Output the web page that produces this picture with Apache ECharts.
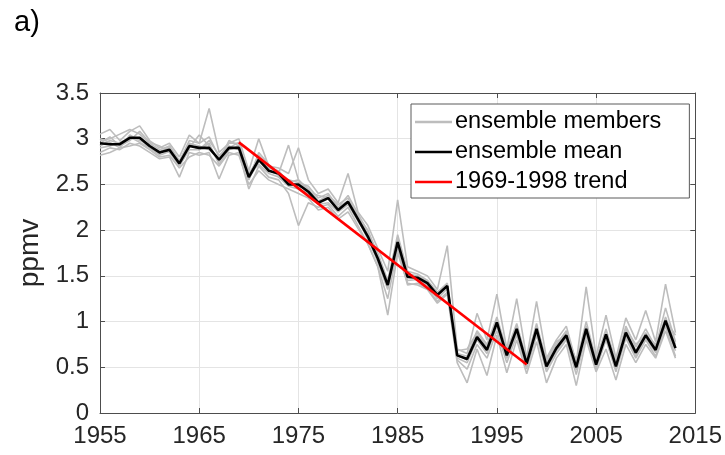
<!DOCTYPE html>
<html>
<head>
<meta charset="utf-8">
<script src="https://cdn.jsdelivr.net/npm/echarts@6/dist/echarts.min.js"></script>
<style>
  html, body { margin: 0; padding: 0; background: #ffffff; }
  #chart { width: 725px; height: 455px; }
</style>
</head>
<body>
<div id="chart"></div>
<script>
// Stratospheric chlorine-style time series, 1955-2013 (ppmv)
const years = [
  1955, 1956, 1957, 1958, 1959, 1960, 1961, 1962, 1963, 1964,
  1965, 1966, 1967, 1968, 1969, 1970, 1971, 1972, 1973, 1974,
  1975, 1976, 1977, 1978, 1979, 1980, 1981, 1982, 1983, 1984,
  1985, 1986, 1987, 1988, 1989, 1990, 1991, 1992, 1993, 1994,
  1995, 1996, 1997, 1998, 1999, 2000, 2001, 2002, 2003, 2004,
  2005, 2006, 2007, 2008, 2009, 2010, 2011, 2012, 2013
];

const ensembleMean = [
  2.95, 2.94, 2.94, 3.01, 3.01, 2.92, 2.85, 2.88, 2.73, 2.92, 2.90, 2.90, 2.77, 2.90, 2.90,
  2.58, 2.77, 2.65, 2.62, 2.50, 2.50, 2.42, 2.30, 2.35, 2.22, 2.31, 2.12, 1.93, 1.69, 1.40, 1.87, 1.49, 1.48, 1.42, 1.29, 1.39,
  0.63, 0.59, 0.83, 0.69, 0.99, 0.63, 0.92, 0.54, 0.92, 0.51, 0.71, 0.85, 0.50, 0.92, 0.53, 0.86, 0.51, 0.88, 0.66, 0.85, 0.69, 1.01, 0.71
];

const member1 = [
  3.05, 3.10, 2.98, 3.08, 3.14, 2.98, 2.90, 2.95, 2.80, 3.04, 2.95, 3.33, 2.85, 2.95, 3.00,
  2.65, 3.00, 2.70, 2.68, 2.62, 2.90, 2.55, 2.40, 2.45, 2.30, 2.62, 2.20, 2.05, 1.80, 1.55, 2.33, 1.60, 1.55, 1.50, 1.35, 1.83,
  0.70, 0.65, 1.09, 0.80, 1.30, 0.70, 1.25, 0.60, 1.22, 0.60, 0.80, 0.95, 0.55, 1.38, 0.62, 1.07, 0.60, 1.04, 0.80, 1.12, 0.78, 1.41, 0.88
];
const member2 = [
  2.85, 2.90, 2.88, 2.95, 2.92, 2.85, 2.78, 2.80, 2.58, 2.85, 2.82, 2.85, 2.56, 2.82, 2.85,
  2.45, 2.70, 2.58, 2.55, 2.40, 2.05, 2.30, 2.25, 2.28, 2.15, 2.25, 2.05, 1.85, 1.60, 1.07, 1.75, 1.42, 1.40, 1.35, 1.20, 1.30,
  0.55, 0.33, 0.70, 0.41, 0.85, 0.44, 0.80, 0.43, 0.78, 0.33, 0.60, 0.75, 0.30, 0.80, 0.45, 0.70, 0.36, 0.75, 0.55, 0.75, 0.60, 0.90, 0.60
];
const member3 = [
  2.98, 3.00, 3.05, 3.10, 3.05, 2.95, 2.88, 2.92, 2.75, 2.98, 2.95, 3.02, 2.80, 2.95, 2.95,
  2.55, 2.85, 2.72, 2.60, 2.55, 2.52, 2.48, 2.35, 2.40, 2.25, 2.38, 2.18, 1.98, 1.75, 1.45, 1.95, 1.55, 1.52, 1.45, 1.32, 1.42,
  0.65, 0.62, 0.90, 0.75, 1.05, 0.68, 0.98, 0.58, 0.98, 0.55, 0.75, 0.90, 0.55, 1.00, 0.58, 0.92, 0.55, 0.95, 0.72, 0.92, 0.72, 1.15, 0.78
];
const member4 = [
  2.90, 2.92, 2.96, 3.00, 3.00, 2.90, 2.82, 2.86, 2.70, 2.88, 2.88, 2.95, 2.72, 2.88, 2.92,
  2.60, 2.72, 2.62, 2.58, 2.48, 2.45, 2.40, 2.28, 2.30, 2.20, 2.28, 2.10, 1.92, 1.65, 1.35, 1.85, 1.45, 1.46, 1.40, 1.25, 1.36,
  0.60, 0.55, 0.80, 0.65, 0.95, 0.60, 0.88, 0.50, 0.90, 0.48, 0.68, 0.82, 0.47, 0.88, 0.50, 0.85, 0.48, 0.85, 0.62, 0.82, 0.66, 0.98, 0.68
];
const member5 = [
  3.00, 2.96, 2.90, 3.04, 2.98, 2.93, 2.86, 2.90, 2.74, 2.95, 2.92, 2.88, 2.78, 2.92, 2.88,
  2.62, 2.78, 2.68, 2.65, 2.52, 2.55, 2.45, 2.32, 2.38, 2.28, 2.35, 2.15, 1.95, 1.70, 1.40, 1.90, 1.50, 1.48, 1.45, 1.30, 1.40,
  0.62, 0.60, 0.85, 0.70, 1.00, 0.62, 0.95, 0.55, 0.93, 0.52, 0.72, 0.88, 0.52, 0.95, 0.55, 0.88, 0.52, 0.90, 0.68, 0.88, 0.70, 1.05, 0.75
];
const member6 = [
  2.82, 2.85, 2.90, 2.92, 2.95, 2.88, 2.80, 2.82, 2.68, 2.80, 2.85, 2.82, 2.70, 2.85, 2.82,
  2.50, 2.65, 2.55, 2.50, 2.45, 2.40, 2.35, 2.22, 2.25, 2.12, 2.20, 2.02, 1.85, 1.60, 1.25, 1.80, 1.40, 1.42, 1.36, 1.22, 1.32,
  0.58, 0.48, 0.75, 0.60, 0.90, 0.55, 0.85, 0.48, 0.85, 0.45, 0.65, 0.80, 0.42, 0.85, 0.48, 0.80, 0.45, 0.82, 0.60, 0.80, 0.62, 0.95, 0.62
];
const member7 = [
  2.95, 3.02, 2.92, 2.98, 3.08, 2.96, 2.92, 2.85, 2.72, 2.90, 3.04, 2.92, 2.75, 2.98, 2.92,
  2.58, 2.82, 2.70, 2.62, 2.93, 2.55, 2.42, 2.38, 2.35, 2.25, 2.32, 2.15, 2.00, 1.72, 1.42, 1.92, 1.52, 1.50, 1.44, 1.32, 1.38,
  0.68, 0.70, 0.88, 0.72, 1.02, 0.65, 0.92, 0.60, 0.95, 0.58, 0.78, 0.85, 0.58, 0.92, 0.60, 0.88, 0.58, 0.92, 0.75, 0.85, 0.75, 1.02, 0.85
];
const member8 = [
  2.92, 2.98, 2.95, 3.02, 2.96, 2.90, 2.84, 2.92, 2.76, 2.94, 2.88, 2.98, 2.82, 2.90, 2.96,
  2.56, 2.75, 2.66, 2.60, 2.52, 2.48, 2.44, 2.30, 2.36, 2.24, 2.30, 2.12, 1.90, 1.68, 1.38, 1.88, 1.48, 1.47, 1.42, 1.28, 1.40,
  0.64, 0.58, 0.82, 0.68, 0.98, 0.60, 0.92, 0.52, 0.90, 0.50, 0.70, 0.86, 0.50, 0.92, 0.52, 0.86, 0.50, 0.88, 0.65, 0.86, 0.68, 1.00, 0.72
];
const members = [member1, member2, member3, member4, member5, member6, member7, member8];

// Linear trend over 1969-1998 (end points)
const trendYears = [1969, 1998];
const trendValues = [2.96, 0.53];

// Axis ticks
const xTicks = [1955, 1965, 1975, 1985, 1995, 2005, 2015];
const yTicks = [0, 0.5, 1, 1.5, 2, 2.5, 3, 3.5];

const seriesNames = ['ensemble members', 'ensemble mean', '1969-1998 trend'];

const pairs = (xs, ys) => xs.map((x, i) => [x, ys[i]]);

const FONT = 'Liberation Sans, Arial, Helvetica, sans-serif';
const AXIS_COLOR = '#4d4d4d';
const TEXT_COLOR = '#262626';

const xStep = xTicks[1] - xTicks[0];
const yStep = yTicks[1] - yTicks[0];

function xAxisDef(pos, labels) {
  return {
    type: 'value', position: pos,
    min: xTicks[0], max: xTicks[xTicks.length - 1], interval: xStep,
    axisLine: { show: true, onZero: false, lineStyle: { color: AXIS_COLOR, width: 1 } },
    axisTick: { show: true, inside: true, length: 5, lineStyle: { color: AXIS_COLOR } },
    axisLabel: {
      show: labels, margin: 11, color: TEXT_COLOR, fontSize: 24, fontFamily: FONT,
      formatter: v => String(v)
    },
    splitLine: { show: labels, lineStyle: { color: '#e4e4e4', width: 1 } }
  };
}
function yAxisDef(pos, labels) {
  return {
    type: 'value', position: pos,
    min: yTicks[0], max: yTicks[yTicks.length - 1], interval: yStep,
    axisLine: { show: true, onZero: false, lineStyle: { color: AXIS_COLOR, width: 1 } },
    axisTick: { show: true, inside: true, length: 5, lineStyle: { color: AXIS_COLOR } },
    axisLabel: {
      show: labels, margin: 11, color: TEXT_COLOR, fontSize: 24, fontFamily: FONT,
      formatter: v => String(v)
    },
    splitLine: { show: labels, lineStyle: { color: '#e4e4e4', width: 1 } },
    name: labels ? 'ppmv' : '',
    nameLocation: 'middle', nameGap: 51, nameRotate: 90,
    nameTextStyle: { color: TEXT_COLOR, fontSize: 28, fontFamily: FONT }
  };
}

const series = [];
members.forEach(m => {
  series.push({
    name: seriesNames[0], type: 'line', data: pairs(years, m),
    symbol: 'none', lineStyle: { color: '#bdbdbd', width: 1.6 }, itemStyle: { color: '#bdbdbd' },
    silent: true, animation: false
  });
});
series.push({
  name: seriesNames[1], type: 'line', data: pairs(years, ensembleMean),
  symbol: 'none', lineStyle: { color: '#000000', width: 2.6 }, itemStyle: { color: '#000000' },
  animation: false
});
series.push({
  name: seriesNames[2], type: 'line', data: pairs(trendYears, trendValues),
  symbol: 'none', lineStyle: { color: '#ff0000', width: 2.6 }, itemStyle: { color: '#ff0000' },
  animation: false
});

const chart = echarts.init(document.getElementById('chart'), null, { renderer: 'canvas' });
chart.setOption({
  backgroundColor: '#ffffff',
  animation: false,
  title: {
    text: 'a)', left: 9, top: 3,
    textStyle: { color: '#000000', fontSize: 29, fontWeight: 'normal', fontFamily: FONT }
  },
  grid: { left: 100, right: 26, top: 93, bottom: 42 },
  legend: {
    data: seriesNames, orient: 'vertical', left: 411, top: 104,
    icon: 'rect', itemWidth: 37, itemHeight: 2.5, itemGap: 6,
    padding: [6, 28, 4, 4],
    backgroundColor: '#ffffff', borderColor: '#5a5a5a', borderWidth: 1, borderRadius: 0,
    textStyle: { color: '#000000', fontSize: 23.5, fontFamily: FONT, padding: [0, 0, 0, -2] }
  },
  xAxis: [xAxisDef('bottom', true), xAxisDef('top', false)],
  yAxis: [yAxisDef('left', true), yAxisDef('right', false)],
  series: series
});
</script>
</body>
</html>
